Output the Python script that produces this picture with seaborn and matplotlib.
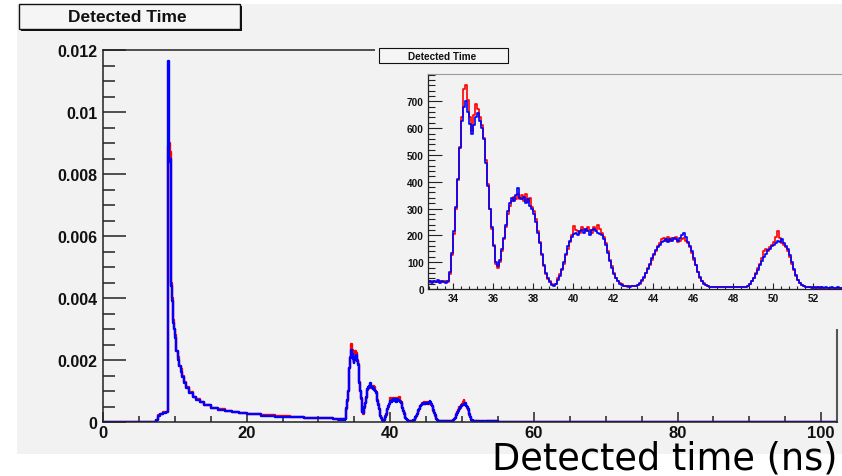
import numpy as np
import pandas as pd
import matplotlib
matplotlib.use("Agg")
import matplotlib.pyplot as plt
import seaborn as sns
from matplotlib.patches import Rectangle
from matplotlib.ticker import MultipleLocator

sns.set_theme(style="white")
plt.rcParams['font.family'] = ['Liberation Sans', 'DejaVu Sans']

# ---------------- data ----------------
# main histogram, early part (bin left edges in ns, normalised values)
main_t = [0, 7.4, 7.6, 8.0, 8.4, 8.8, 9.0, 9.1, 9.2, 9.3, 9.4, 9.5, 9.6, 9.7,
          9.8, 9.9, 10.0, 10.2, 10.4, 10.6, 10.8, 11.0, 11.3, 11.6, 12.0, 12.5,
          13.0, 13.5, 14.0, 15.0, 16.0, 17.0, 18.0, 19.0, 20.0, 22.0, 24.0,
          26.0, 28.0, 30.0, 32.0]
main_blue = [0, 0.00005, 0.0002, 0.00025, 0.0003, 0.00032, 0.00035, 0.01165,
             0.0084, 0.0085, 0.0054, 0.0044, 0.0039, 0.0035, 0.0032, 0.0030,
             0.0027, 0.0023, 0.0020, 0.0018, 0.0016, 0.00145, 0.00125, 0.0011,
             0.00095, 0.0008, 0.00072, 0.00063, 0.00054, 0.00044, 0.0004,
             0.00035, 0.00031, 0.00028, 0.00025, 0.0002, 0.00017, 0.00015,
             0.00013, 0.00012, 0.00011]
main_red = [0, 0.00006, 0.00021, 0.00026, 0.00031, 0.00033, 0.00036, 0.0089,
            0.0090, 0.0087, 0.0055, 0.0045, 0.0040, 0.0036, 0.0033, 0.0030,
            0.0028, 0.0023, 0.0021, 0.0018, 0.0017, 0.00148, 0.00128, 0.00112,
            0.00097, 0.00082, 0.00074, 0.00064, 0.00056, 0.00046, 0.00041,
            0.00036, 0.00032, 0.00029, 0.00026, 0.00021, 0.00018, 0.00016,
            0.00014, 0.00012, 0.00011]

# zoomed region (counts per 0.1 ns bin, starting at 32.7 ns)
inset_start = 32.7
inset_bin = 0.1
inset_blue = [26, 31, 23,
              28, 25, 32, 24, 29, 27, 22, 30, 62, 135,
              215, 305, 410, 525, 625, 680, 700, 660, 615, 580,
              610, 640, 655, 625, 600, 560, 470, 385, 300, 230,
              160, 100, 85, 110, 150, 190, 240, 290, 320, 340,
              330, 350, 378, 340, 335, 345, 320, 335, 310, 300,
              280, 250, 210, 170, 130, 90, 60, 40, 25, 15,
              12, 20, 35, 50, 75, 100, 130, 160, 180, 195,
              205, 210, 200, 215, 220, 210, 225, 215, 200, 220,
              225, 215, 210, 205, 200, 185, 165, 135, 105, 80,
              55, 40, 28, 20, 15, 12, 10, 10, 9, 10,
              12, 10, 15, 22, 32, 45, 60, 75, 95, 115,
              130, 145, 155, 165, 175, 180, 185, 175, 185, 180,
              190, 185, 180, 190, 200, 210, 195, 175, 160, 140,
              115, 90, 65, 45, 30, 20, 14, 10, 8, 8,
              7, 9, 8, 6, 8, 7, 9, 8, 7, 8,
              9, 7, 8, 6, 8, 9, 7, 12, 18, 28,
              40, 55, 72, 90, 105, 120, 130, 145, 150, 160,
              165, 170, 180, 175, 185, 170, 160, 150, 125, 100,
              75, 52, 35, 22, 15, 10, 8, 6, 7, 5,
              6, 5, 7, 5, 6, 4, 6, 5, 4, 6,
              5, 4, 6, 5, 4]
inset_red = [24, 28, 27,
             30, 27, 25, 31, 26, 30, 28, 26, 55, 125,
             205, 300, 405, 530, 640, 745, 760, 705, 640, 590,
             650, 690, 670, 640, 610, 565, 480, 390, 300, 225,
             165, 95, 80, 100, 140, 185, 230, 280, 310, 330,
             345, 335, 355, 335, 350, 330, 355, 325, 340, 305,
             290, 260, 215, 175, 125, 85, 55, 38, 28, 18,
             15, 18, 40, 55, 70, 95, 125, 150, 175, 200,
             235, 220, 215, 210, 230, 225, 215, 230, 220, 210,
             230, 220, 240, 225, 210, 195, 170, 140, 110, 85,
             60, 42, 30, 22, 17, 13, 12, 9, 11, 10,
             10, 13, 14, 20, 30, 42, 58, 78, 90, 110,
             125, 140, 160, 170, 185, 190, 180, 195, 180, 190,
             185, 195, 175, 180, 185, 190, 180, 170, 155, 135,
             110, 88, 62, 42, 30, 22, 15, 11, 9, 7,
             8, 7, 9, 8, 6, 8, 7, 9, 8, 7,
             7, 8, 7, 9, 7, 8, 9, 12, 20, 30,
             42, 60, 78, 95, 115, 140, 150, 140, 155, 165,
             175, 195, 215, 190, 170, 165, 155, 140, 120, 95,
             70, 50, 33, 22, 14, 11, 8, 7, 6, 6,
             5, 6, 5, 6, 4, 5, 5, 4, 5, 4,
             4, 5, 4, 4, 5]
count_to_main = 3.3e-6   # counts in zoom -> normalised units of main plot

# late part of main histogram
tail_t = [53.5, 55.0, 58.0, 62.0, 70.0, 80.0]
tail_blue = [0.00002, 0.00001, 0.000005, 0.000003, 0.000001, 0.0]
tail_red = [0.00002, 0.00001, 0.000006, 0.000003, 0.000001, 0.0]
x_end = 102.2

main_xticks = [0, 20, 40, 60, 80, 100]
main_xlabels = ["0", "20", "40", "60", "80", "100"]
main_yticks = [0, 0.002, 0.004, 0.006, 0.008, 0.01, 0.012]
main_ylabels = ["0", "0.002", "0.004", "0.006", "0.008", "0.01", "0.012"]
inset_xticks = [34, 36, 38, 40, 42, 44, 46, 48, 50, 52]
inset_yticks = [0, 100, 200, 300, 400, 500, 600, 700]

# ---------------- build series ----------------
inset_t = [inset_start + inset_bin * i for i in range(len(inset_blue))]
inset_end = inset_start + inset_bin * len(inset_blue)


def steps(edges, vals, end):
    return list(edges) + [end], list(vals) + [vals[-1]]


mx = main_t + inset_t + tail_t
my_b = main_blue + [v * count_to_main for v in inset_blue] + tail_blue
my_r = main_red + [v * count_to_main for v in inset_red] + tail_red
mxb, myb = steps(mx, my_b, x_end)
mxr, myr = steps(mx, my_r, x_end)
ixb, iyb = steps(inset_t, inset_blue, inset_end)
ixr, iyr = steps(inset_t, inset_red, inset_end)

main_df = pd.concat([
    pd.DataFrame({"t": mxr, "v": myr, "s": "red"}),
    pd.DataFrame({"t": mxb, "v": myb, "s": "blue"}),
])
inset_df = pd.concat([
    pd.DataFrame({"t": ixr, "v": iyr, "s": "red"}),
    pd.DataFrame({"t": ixb, "v": iyb, "s": "blue"}),
])

# ---------------- figure ----------------
W, H = 842, 477
fig = plt.figure(figsize=(W / 100, H / 100), dpi=100)
fig.patch.set_facecolor("white")
PANEL = "#f2f2f2"


def rect(x0, y0, x1, y1):
    return [x0 / W, 1 - y1 / H, (x1 - x0) / W, (y1 - y0) / H]


def fig_box(x0, y0, x1, y1, **kw):
    r = Rectangle((x0 / W, 1 - y1 / H), (x1 - x0) / W, (y1 - y0) / H,
                  transform=fig.transFigure, **kw)
    fig.add_artist(r)
    return r


fig_box(17, 5, 842, 455, facecolor=PANEL, edgecolor="none", zorder=-5)

# main axes
ax = fig.add_axes(rect(103, 51, 837, 423))
ax.set_zorder(0)
ax.set_facecolor(PANEL)
sns.lineplot(data=main_df, x="t", y="v", hue="s", estimator=None, sort=False,
             palette={"red": "#ff0000", "blue": "#0000ff"},
             drawstyle="steps-post", linewidth=1.7, legend=False, ax=ax)
ax.set_xlim(0, x_end)
ax.set_ylim(0, 0.012)
ax.set_xticks(main_xticks)
ax.set_xticklabels(main_xlabels)
ax.set_yticks(main_yticks)
ax.set_yticklabels(main_ylabels)
ax.xaxis.set_minor_locator(MultipleLocator(5))
ax.yaxis.set_minor_locator(MultipleLocator(0.0005))
ax.tick_params(axis="y", which="major", direction="in", length=16.5, width=1.1,
               color="#222222", labelsize=11.5, pad=4)
ax.tick_params(axis="y", which="minor", direction="in", length=8.5, width=1.1,
               color="#222222")
ax.tick_params(axis="x", which="major", direction="in", length=7.2, width=1.1,
               color="#222222", labelsize=12, pad=2)
ax.tick_params(axis="x", which="minor", direction="in", length=4, width=1.1,
               color="#222222")
ax.tick_params(left=True, bottom=True, which="both")
for lab in ax.get_xticklabels() + ax.get_yticklabels():
    lab.set_fontweight("bold")
    lab.set_color("#111111")
ax.set_xlabel("")
ax.set_ylabel("")
for s in ["left", "top", "bottom"]:
    ax.spines[s].set_color("#222222")
    ax.spines[s].set_linewidth(1.1)
ax.spines["right"].set_color("#555555")
ax.spines["right"].set_linewidth(1.5)

# main title box
fig_box(21, 7, 242, 32, facecolor="#111111", edgecolor="none", zorder=5)
fig_box(19, 5, 240, 30, facecolor="#f5f5f5", edgecolor="#111111",
        linewidth=1.0, zorder=6)
fig.text(127.5 / W, 1 - 18 / H, "Detected Time", ha="center", va="center",
         fontsize=12.5, fontweight="bold", color="#111111", zorder=7)

# inset panel
pan = fig.add_axes(rect(375, 43, 842, 330))
pan.set_zorder(1)
pan.set_facecolor(PANEL)
pan.set_xticks([])
pan.set_yticks([])
for s in pan.spines.values():
    s.set_visible(False)

# inset axes
iax = fig.add_axes(rect(428, 75, 852, 290))
iax.set_zorder(2)
iax.set_facecolor(PANEL)
sns.lineplot(data=inset_df, x="t", y="v", hue="s", estimator=None, sort=False,
             palette={"red": "#ff0000", "blue": "#0000ff"},
             drawstyle="steps-post", linewidth=1.2, legend=False, ax=iax)
iax.set_xlim(32.75, 53.95)
iax.set_ylim(0, 802)
iax.set_xticks(inset_xticks)
iax.set_yticks(inset_yticks)
iax.set_xticklabels([str(v) for v in inset_xticks])
iax.set_yticklabels([str(v) for v in inset_yticks])
iax.xaxis.set_minor_locator(MultipleLocator(0.4))
iax.yaxis.set_minor_locator(MultipleLocator(20))
iax.tick_params(axis="y", which="major", direction="in", length=10, width=0.8,
                color="#222222", labelsize=7.2, pad=3)
iax.tick_params(axis="y", which="minor", direction="in", length=5, width=0.8,
                color="#222222")
iax.tick_params(axis="x", which="major", direction="in", length=4, width=0.8,
                color="#222222", labelsize=7.2, pad=3)
iax.tick_params(axis="x", which="minor", direction="in", length=2.2, width=0.8,
                color="#222222")
iax.tick_params(left=True, bottom=True, which="both")
for lab in iax.get_xticklabels() + iax.get_yticklabels():
    lab.set_fontweight("bold")
    lab.set_color("#111111")
iax.set_xlabel("")
iax.set_ylabel("")
iax.spines["right"].set_visible(False)
iax.spines["top"].set_color("#999999")
iax.spines["top"].set_linewidth(0.8)
for s in ["left", "bottom"]:
    iax.spines[s].set_color("#222222")
    iax.spines[s].set_linewidth(0.9)

# inset title box
fig_box(380, 50, 509, 65, facecolor="#111111", edgecolor="none", zorder=5)
fig_box(379, 49, 508, 64, facecolor="#f5f5f5", edgecolor="#111111",
        linewidth=0.8, zorder=6)
fig.text(442 / W, 1 - 56.5 / H, "Detected Time", ha="center", va="center",
         fontsize=7.2, fontweight="bold", color="#111111", zorder=7)

# big x-axis title
fig.text(838 / W, 1 - 470 / H, "Detected time (ns)", ha="right",
         va="baseline", fontsize=26.5, color="black",
         family=["DejaVu Sans"], zorder=7)

fig.savefig("out.png", dpi=100, facecolor="white")
